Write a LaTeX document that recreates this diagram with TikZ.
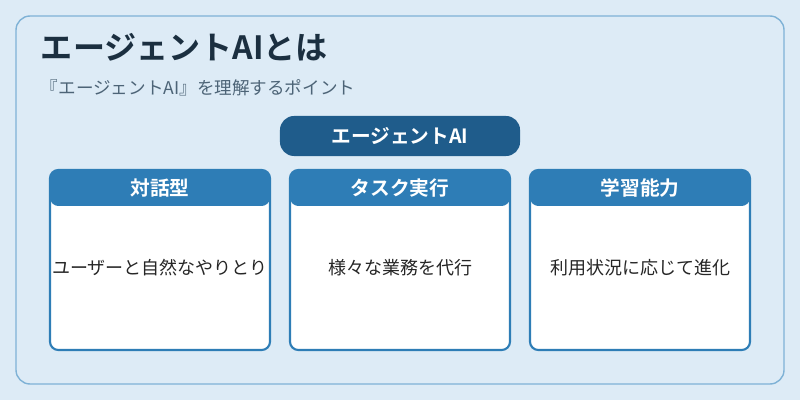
\documentclass[tikz,border=0pt]{standalone}
\usepackage{fontspec}
\setmainfont{Noto Sans CJK JP}[BoldFont=Noto Sans CJK JP Bold]
\usetikzlibrary{positioning}
\definecolor{bgblue}{HTML}{DDEBF6}
\definecolor{edgeblue}{HTML}{7FB2D6}
\definecolor{titleink}{HTML}{1B2F40}
\definecolor{subink}{HTML}{4D6477}
\definecolor{pillblue}{HTML}{1F5C8B}
\definecolor{hdrblue}{HTML}{2E7DB6}
\tikzset{
  card/.style={draw=hdrblue, line width=1.5pt, fill=white, rounded corners=6pt,
    minimum width=5.5cm, minimum height=4.5cm, inner sep=0pt,
    path picture={\fill[hdrblue] (path picture bounding box.north west)
      rectangle ([yshift=-0.9cm]path picture bounding box.north east);}},
  cardhead/.style={text=white, font=\bfseries\fontsize{14}{16}\selectfont},
  cardtext/.style={text=black!85, font=\fontsize{12.8}{15}\selectfont}
}
\begin{document}
\begin{tikzpicture}[x=0.025cm,y=-0.025cm]
  \fill[bgblue] (0,0) rectangle (800,400);
  \draw[edgeblue, line width=1pt, rounded corners=10pt] (16,16) rectangle (784,384);
  % title
  \node[anchor=west, text=titleink, font=\bfseries\fontsize{22.8}{26}\selectfont] (title) at (36,47) {エージェントAIとは};
  \node[anchor=west, text=subink, font=\fontsize{12.5}{15}\selectfont] (sub) at (36,88) {『エージェントAI』を理解するポイント};
  % pill
  \node[fill=pillblue, rounded corners=10pt, minimum width=6cm, minimum height=1cm,
    text=white, font=\bfseries\fontsize{14}{16}\selectfont] (agent) at (400,136) {エージェントAI};
  % cards
  \node[card] (dialog) at (160,260) {};
  \node[card] (task) at (400,260) {};
  \node[card] (learn) at (640,260) {};
  \node[cardhead] (dialoghd) at (160,188) {対話型};
  \node[cardhead] (taskhd) at (400,188) {タスク実行};
  \node[cardhead] (learnhd) at (640,188) {学習能力};
  \node[cardtext] (dialogtx) at (160,268) {ユーザーと自然なやりとり};
  \node[cardtext] (tasktx) at (400,268) {様々な業務を代行};
  \node[cardtext] (learntx) at (640,268) {利用状況に応じて進化};
\end{tikzpicture}
\end{document}
